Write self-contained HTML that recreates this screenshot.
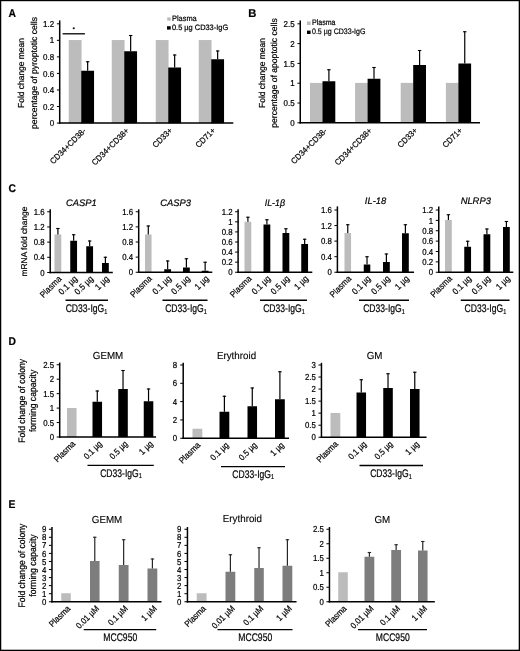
<!DOCTYPE html>
<html><head><meta charset="utf-8"><title>Figure</title>
<style>
html,body{margin:0;padding:0;background:#fff;}
body{width:520px;height:651px;overflow:hidden;font-family:"Liberation Sans",sans-serif;}
svg{display:block;will-change:transform;font-family:"Liberation Sans",sans-serif;}
text{text-rendering:geometricPrecision;stroke:#000;stroke-width:0.22px;fill:#000;}
text.t{stroke-width:0.12px;}text.t2{stroke-width:0.2px;}
</style></head><body>
<svg width="520" height="651" viewBox="0 0 520 651" shape-rendering="auto">
<rect x="0" y="0" width="520" height="651" fill="#fff"/>
<rect x="0" y="0" width="1.25" height="651" fill="#000"/><rect x="518.7" y="0" width="1.3" height="651" fill="#000"/><rect x="0" y="0" width="520" height="1.2" fill="#000"/><rect x="0" y="649.7" width="520" height="1.3" fill="#000"/>
<defs><filter id="soft" filterUnits="userSpaceOnUse" x="0" y="0" width="520" height="651"><feGaussianBlur stdDeviation="0.35"/></filter></defs>
<g filter="url(#soft)">
<text transform="translate(8.60 17.40) scale(0.92 1)" font-size="11.2" font-weight="bold" >A</text>
<text transform="translate(248.30 17.40)" font-size="11.2" font-weight="bold" >B</text>
<text transform="translate(8.60 191.50) scale(0.92 1)" font-size="11.2" font-weight="bold" >C</text>
<text transform="translate(8.40 344.50) scale(0.92 1)" font-size="11.2" font-weight="bold" >D</text>
<text transform="translate(8.40 508.20) scale(0.92 1)" font-size="11.2" font-weight="bold" >E</text>
<rect x="68.75" y="40.04" width="12.80" height="83.21" fill="#bcbcbc"/>
<rect x="81.25" y="70.75" width="12.80" height="52.50" fill="#000"/>
<line x1="87.65" y1="70.75" x2="87.65" y2="61.25" stroke="#000" stroke-width="1.2"/>
<line x1="85.95" y1="61.75" x2="89.35" y2="61.75" stroke="#000" stroke-width="1.1"/>
<rect x="111.75" y="40.04" width="12.80" height="83.21" fill="#bcbcbc"/>
<rect x="124.25" y="51.25" width="12.80" height="72.00" fill="#000"/>
<line x1="130.65" y1="51.25" x2="130.65" y2="35.00" stroke="#000" stroke-width="1.2"/>
<line x1="128.95" y1="35.50" x2="132.35" y2="35.50" stroke="#000" stroke-width="1.1"/>
<rect x="155.75" y="40.04" width="12.80" height="83.21" fill="#bcbcbc"/>
<rect x="168.25" y="67.50" width="12.80" height="55.75" fill="#000"/>
<line x1="174.65" y1="67.50" x2="174.65" y2="54.50" stroke="#000" stroke-width="1.2"/>
<line x1="172.95" y1="55.00" x2="176.35" y2="55.00" stroke="#000" stroke-width="1.1"/>
<rect x="198.75" y="40.04" width="12.80" height="83.21" fill="#bcbcbc"/>
<rect x="211.25" y="59.25" width="12.80" height="64.00" fill="#000"/>
<line x1="217.65" y1="59.25" x2="217.65" y2="50.50" stroke="#000" stroke-width="1.2"/>
<line x1="215.95" y1="51.00" x2="219.35" y2="51.00" stroke="#000" stroke-width="1.1"/>
<line x1="59.70" y1="20.40" x2="59.70" y2="123.80" stroke="#000" stroke-width="1.5"/>
<line x1="58.95" y1="123.05" x2="233.30" y2="123.05" stroke="#000" stroke-width="1.5"/>
<line x1="56.90" y1="123.05" x2="59.70" y2="123.05" stroke="#000" stroke-width="1"/>
<text transform="translate(54.10 126.15) scale(0.93 1)" font-size="8.6" text-anchor="end" >0</text>
<line x1="56.90" y1="106.51" x2="59.70" y2="106.51" stroke="#000" stroke-width="1"/>
<text transform="translate(54.10 109.60) scale(0.93 1)" font-size="8.6" text-anchor="end" >0.2</text>
<line x1="56.90" y1="89.97" x2="59.70" y2="89.97" stroke="#000" stroke-width="1"/>
<text transform="translate(54.10 93.06) scale(0.93 1)" font-size="8.6" text-anchor="end" >0.4</text>
<line x1="56.90" y1="73.42" x2="59.70" y2="73.42" stroke="#000" stroke-width="1"/>
<text transform="translate(54.10 76.52) scale(0.93 1)" font-size="8.6" text-anchor="end" >0.6</text>
<line x1="56.90" y1="56.88" x2="59.70" y2="56.88" stroke="#000" stroke-width="1"/>
<text transform="translate(54.10 59.98) scale(0.93 1)" font-size="8.6" text-anchor="end" >0.8</text>
<line x1="56.90" y1="40.34" x2="59.70" y2="40.34" stroke="#000" stroke-width="1"/>
<text transform="translate(54.10 43.44) scale(0.93 1)" font-size="8.6" text-anchor="end" >1</text>
<line x1="56.90" y1="23.80" x2="59.70" y2="23.80" stroke="#000" stroke-width="1"/>
<text transform="translate(54.10 26.90) scale(0.93 1)" font-size="8.6" text-anchor="end" >1.2</text>
<line x1="62.60" y1="33.80" x2="84.90" y2="33.80" stroke="#000" stroke-width="1.3"/>
<circle cx="73.75" cy="28.2" r="1.05" fill="#111"/>
<rect x="167.20" y="17.40" width="3.50" height="3.30" fill="#bcbcbc"/>
<text transform="translate(172.00 21.30) scale(0.95 1)" font-size="7.8" >Plasma</text>
<rect x="167.00" y="26.20" width="3.70" height="3.40" fill="#000"/>
<text transform="translate(172.00 30.20) scale(0.95 1)" font-size="7.8" >0.5 µg CD33-IgG</text>
<text transform="translate(23.80 73.00) rotate(-90) scale(0.97 1)" font-size="8.7" text-anchor="middle" >Fold change mean</text>
<text transform="translate(36.60 73.00) rotate(-90) scale(0.99 1)" font-size="8.7" text-anchor="middle" >percentage of pyroptotic cells</text>
<text transform="translate(86.50 131.30) rotate(-45) scale(0.95 1)" font-size="8.2" text-anchor="end" >CD34+CD38-</text>
<text transform="translate(129.50 131.30) rotate(-45) scale(0.95 1)" font-size="8.2" text-anchor="end" >CD34+CD38+</text>
<text transform="translate(173.00 131.00) rotate(-45) scale(0.95 1)" font-size="8.2" text-anchor="end" >CD33+</text>
<text transform="translate(216.00 131.00) rotate(-45) scale(0.95 1)" font-size="8.2" text-anchor="end" >CD71+</text>
<rect x="310.00" y="82.90" width="12.80" height="40.10" fill="#bcbcbc"/>
<rect x="322.50" y="81.25" width="12.80" height="41.75" fill="#000"/>
<line x1="328.90" y1="81.25" x2="328.90" y2="69.25" stroke="#000" stroke-width="1.2"/>
<line x1="327.20" y1="69.75" x2="330.60" y2="69.75" stroke="#000" stroke-width="1.1"/>
<rect x="355.10" y="82.90" width="12.80" height="40.10" fill="#bcbcbc"/>
<rect x="367.60" y="78.75" width="12.80" height="44.25" fill="#000"/>
<line x1="374.00" y1="78.75" x2="374.00" y2="67.00" stroke="#000" stroke-width="1.2"/>
<line x1="372.30" y1="67.50" x2="375.70" y2="67.50" stroke="#000" stroke-width="1.1"/>
<rect x="400.70" y="82.90" width="12.80" height="40.10" fill="#bcbcbc"/>
<rect x="413.20" y="65.00" width="12.80" height="58.00" fill="#000"/>
<line x1="419.60" y1="65.00" x2="419.60" y2="50.00" stroke="#000" stroke-width="1.2"/>
<line x1="417.90" y1="50.50" x2="421.30" y2="50.50" stroke="#000" stroke-width="1.1"/>
<rect x="445.90" y="82.90" width="12.80" height="40.10" fill="#bcbcbc"/>
<rect x="458.40" y="63.50" width="12.70" height="59.50" fill="#000"/>
<line x1="464.75" y1="63.50" x2="464.75" y2="31.25" stroke="#000" stroke-width="1.2"/>
<line x1="463.05" y1="31.75" x2="466.45" y2="31.75" stroke="#000" stroke-width="1.1"/>
<line x1="300.25" y1="20.40" x2="300.25" y2="123.55" stroke="#000" stroke-width="1.5"/>
<line x1="299.50" y1="122.80" x2="480.00" y2="122.80" stroke="#000" stroke-width="1.5"/>
<line x1="297.45" y1="122.80" x2="300.25" y2="122.80" stroke="#000" stroke-width="1"/>
<text transform="translate(294.65 125.90) scale(0.93 1)" font-size="8.6" text-anchor="end" >0</text>
<line x1="297.45" y1="103.00" x2="300.25" y2="103.00" stroke="#000" stroke-width="1"/>
<text transform="translate(294.65 106.10) scale(0.93 1)" font-size="8.6" text-anchor="end" >0.5</text>
<line x1="297.45" y1="83.20" x2="300.25" y2="83.20" stroke="#000" stroke-width="1"/>
<text transform="translate(294.65 86.30) scale(0.93 1)" font-size="8.6" text-anchor="end" >1</text>
<line x1="297.45" y1="63.40" x2="300.25" y2="63.40" stroke="#000" stroke-width="1"/>
<text transform="translate(294.65 66.50) scale(0.93 1)" font-size="8.6" text-anchor="end" >1.5</text>
<line x1="297.45" y1="43.60" x2="300.25" y2="43.60" stroke="#000" stroke-width="1"/>
<text transform="translate(294.65 46.70) scale(0.93 1)" font-size="8.6" text-anchor="end" >2</text>
<line x1="297.45" y1="23.80" x2="300.25" y2="23.80" stroke="#000" stroke-width="1"/>
<text transform="translate(294.65 26.90) scale(0.93 1)" font-size="8.6" text-anchor="end" >2.5</text>
<rect x="307.00" y="21.50" width="3.60" height="3.50" fill="#bcbcbc"/>
<text transform="translate(312.00 25.20) scale(0.88 1)" font-size="8.0" >Plasma</text>
<rect x="307.00" y="30.60" width="3.60" height="3.40" fill="#000"/>
<text transform="translate(312.00 34.20) scale(0.88 1)" font-size="8.0" >0.5 µg CD33-IgG</text>
<text transform="translate(264.70 73.00) rotate(-90) scale(0.97 1)" font-size="8.7" text-anchor="middle" >Fold change mean</text>
<text transform="translate(277.20 73.00) rotate(-90) scale(0.99 1)" font-size="8.7" text-anchor="middle" >percentage of apoptotic cells</text>
<text transform="translate(327.50 131.30) rotate(-45) scale(0.95 1)" font-size="8.2" text-anchor="end" >CD34+CD38-</text>
<text transform="translate(372.50 131.30) rotate(-45) scale(0.95 1)" font-size="8.2" text-anchor="end" >CD34+CD38+</text>
<text transform="translate(418.00 131.00) rotate(-45) scale(0.95 1)" font-size="8.2" text-anchor="end" >CD33+</text>
<text transform="translate(463.00 131.00) rotate(-45) scale(0.95 1)" font-size="8.2" text-anchor="end" >CD71+</text>
<rect x="54.50" y="234.50" width="6.80" height="38.00" fill="#bcbcbc"/>
<line x1="57.90" y1="234.50" x2="57.90" y2="228.00" stroke="#000" stroke-width="1.2"/>
<line x1="56.20" y1="228.50" x2="59.60" y2="228.50" stroke="#000" stroke-width="1.1"/>
<rect x="70.25" y="240.75" width="6.80" height="31.75" fill="#000"/>
<line x1="73.65" y1="240.75" x2="73.65" y2="234.25" stroke="#000" stroke-width="1.2"/>
<line x1="71.95" y1="234.75" x2="75.35" y2="234.75" stroke="#000" stroke-width="1.1"/>
<rect x="86.25" y="246.25" width="6.80" height="26.25" fill="#000"/>
<line x1="89.65" y1="246.25" x2="89.65" y2="240.50" stroke="#000" stroke-width="1.2"/>
<line x1="87.95" y1="241.00" x2="91.35" y2="241.00" stroke="#000" stroke-width="1.1"/>
<rect x="102.00" y="263.00" width="6.80" height="9.50" fill="#000"/>
<line x1="105.40" y1="263.00" x2="105.40" y2="256.75" stroke="#000" stroke-width="1.2"/>
<line x1="103.70" y1="257.25" x2="107.10" y2="257.25" stroke="#000" stroke-width="1.1"/>
<line x1="50.20" y1="209.35" x2="50.20" y2="273.25" stroke="#000" stroke-width="1.5"/>
<line x1="49.45" y1="272.50" x2="112.80" y2="272.50" stroke="#000" stroke-width="1.5"/>
<line x1="47.20" y1="272.50" x2="50.20" y2="272.50" stroke="#000" stroke-width="1"/>
<text transform="translate(44.60 275.63) scale(0.9 1)" font-size="8.7" text-anchor="end" >0</text>
<line x1="47.20" y1="257.31" x2="50.20" y2="257.31" stroke="#000" stroke-width="1"/>
<text transform="translate(44.60 260.44) scale(0.9 1)" font-size="8.7" text-anchor="end" >0.4</text>
<line x1="47.20" y1="242.12" x2="50.20" y2="242.12" stroke="#000" stroke-width="1"/>
<text transform="translate(44.60 245.26) scale(0.9 1)" font-size="8.7" text-anchor="end" >0.8</text>
<line x1="47.20" y1="226.94" x2="50.20" y2="226.94" stroke="#000" stroke-width="1"/>
<text transform="translate(44.60 230.07) scale(0.9 1)" font-size="8.7" text-anchor="end" >1.2</text>
<line x1="47.20" y1="211.75" x2="50.20" y2="211.75" stroke="#000" stroke-width="1"/>
<text transform="translate(44.60 214.88) scale(0.9 1)" font-size="8.7" text-anchor="end" >1.6</text>
<text transform="translate(81.25 205.95)" font-size="9.4" text-anchor="middle" font-style="italic" class="t2">CASP1</text>
<text transform="translate(62.05 279.50) rotate(-45) scale(0.9 1)" font-size="8.8" text-anchor="end" >Plasma</text>
<text transform="translate(77.80 279.50) rotate(-45) scale(0.9 1)" font-size="8.8" text-anchor="end" >0.1 µg</text>
<text transform="translate(93.80 279.50) rotate(-45) scale(0.9 1)" font-size="8.8" text-anchor="end" >0.5 µg</text>
<text transform="translate(109.55 279.50) rotate(-45) scale(0.9 1)" font-size="8.8" text-anchor="end" >1 µg</text>
<line x1="65.50" y1="300.25" x2="108.00" y2="300.25" stroke="#000" stroke-width="1.3"/>
<text transform="translate(86.50 311.90) scale(0.78 1)" font-size="11" text-anchor="middle" >CD33-IgG<tspan font-size="7" dy="1.8">1</tspan></text>
<rect x="145.00" y="234.50" width="6.55" height="37.75" fill="#bcbcbc"/>
<line x1="148.28" y1="234.50" x2="148.28" y2="225.50" stroke="#000" stroke-width="1.2"/>
<line x1="146.58" y1="226.00" x2="149.97" y2="226.00" stroke="#000" stroke-width="1.1"/>
<rect x="164.25" y="269.25" width="6.80" height="3.00" fill="#000"/>
<line x1="167.65" y1="269.25" x2="167.65" y2="260.50" stroke="#000" stroke-width="1.2"/>
<line x1="165.95" y1="261.00" x2="169.35" y2="261.00" stroke="#000" stroke-width="1.1"/>
<rect x="183.00" y="267.50" width="6.80" height="4.75" fill="#000"/>
<line x1="186.40" y1="267.50" x2="186.40" y2="258.25" stroke="#000" stroke-width="1.2"/>
<line x1="184.70" y1="258.75" x2="188.10" y2="258.75" stroke="#000" stroke-width="1.1"/>
<rect x="201.75" y="270.75" width="6.80" height="1.50" fill="#000"/>
<line x1="205.15" y1="270.75" x2="205.15" y2="261.75" stroke="#000" stroke-width="1.2"/>
<line x1="203.45" y1="262.25" x2="206.85" y2="262.25" stroke="#000" stroke-width="1.1"/>
<line x1="138.70" y1="209.35" x2="138.70" y2="273.00" stroke="#000" stroke-width="1.5"/>
<line x1="137.95" y1="272.25" x2="212.30" y2="272.25" stroke="#000" stroke-width="1.5"/>
<line x1="135.70" y1="272.25" x2="138.70" y2="272.25" stroke="#000" stroke-width="1"/>
<text transform="translate(133.10 275.38) scale(0.9 1)" font-size="8.7" text-anchor="end" >0</text>
<line x1="135.70" y1="257.12" x2="138.70" y2="257.12" stroke="#000" stroke-width="1"/>
<text transform="translate(133.10 260.26) scale(0.9 1)" font-size="8.7" text-anchor="end" >0.4</text>
<line x1="135.70" y1="242.00" x2="138.70" y2="242.00" stroke="#000" stroke-width="1"/>
<text transform="translate(133.10 245.13) scale(0.9 1)" font-size="8.7" text-anchor="end" >0.8</text>
<line x1="135.70" y1="226.88" x2="138.70" y2="226.88" stroke="#000" stroke-width="1"/>
<text transform="translate(133.10 230.01) scale(0.9 1)" font-size="8.7" text-anchor="end" >1.2</text>
<line x1="135.70" y1="211.75" x2="138.70" y2="211.75" stroke="#000" stroke-width="1"/>
<text transform="translate(133.10 214.88) scale(0.9 1)" font-size="8.7" text-anchor="end" >1.6</text>
<text transform="translate(175.50 205.95)" font-size="9.4" text-anchor="middle" font-style="italic" class="t2">CASP3</text>
<text transform="translate(152.30 279.25) rotate(-45) scale(0.9 1)" font-size="8.8" text-anchor="end" >Plasma</text>
<text transform="translate(171.80 279.25) rotate(-45) scale(0.9 1)" font-size="8.8" text-anchor="end" >0.1 µg</text>
<text transform="translate(190.55 279.25) rotate(-45) scale(0.9 1)" font-size="8.8" text-anchor="end" >0.5 µg</text>
<text transform="translate(209.30 279.25) rotate(-45) scale(0.9 1)" font-size="8.8" text-anchor="end" >1 µg</text>
<line x1="162.50" y1="300.25" x2="207.50" y2="300.25" stroke="#000" stroke-width="1.3"/>
<text transform="translate(186.00 311.90) scale(0.78 1)" font-size="11" text-anchor="middle" >CD33-IgG<tspan font-size="7" dy="1.8">1</tspan></text>
<rect x="244.50" y="221.75" width="6.80" height="50.50" fill="#bcbcbc"/>
<line x1="247.90" y1="221.75" x2="247.90" y2="216.75" stroke="#000" stroke-width="1.2"/>
<line x1="246.20" y1="217.25" x2="249.60" y2="217.25" stroke="#000" stroke-width="1.1"/>
<rect x="263.50" y="224.50" width="6.80" height="47.75" fill="#000"/>
<line x1="266.90" y1="224.50" x2="266.90" y2="219.25" stroke="#000" stroke-width="1.2"/>
<line x1="265.20" y1="219.75" x2="268.60" y2="219.75" stroke="#000" stroke-width="1.1"/>
<rect x="282.50" y="233.00" width="6.80" height="39.25" fill="#000"/>
<line x1="285.90" y1="233.00" x2="285.90" y2="228.25" stroke="#000" stroke-width="1.2"/>
<line x1="284.20" y1="228.75" x2="287.60" y2="228.75" stroke="#000" stroke-width="1.1"/>
<rect x="301.25" y="244.00" width="6.80" height="28.25" fill="#000"/>
<line x1="304.65" y1="244.00" x2="304.65" y2="238.75" stroke="#000" stroke-width="1.2"/>
<line x1="302.95" y1="239.25" x2="306.35" y2="239.25" stroke="#000" stroke-width="1.1"/>
<line x1="238.10" y1="209.35" x2="238.10" y2="273.00" stroke="#000" stroke-width="1.5"/>
<line x1="237.35" y1="272.25" x2="312.30" y2="272.25" stroke="#000" stroke-width="1.5"/>
<line x1="235.10" y1="272.25" x2="238.10" y2="272.25" stroke="#000" stroke-width="1"/>
<text transform="translate(232.50 275.38) scale(0.9 1)" font-size="8.7" text-anchor="end" >0</text>
<line x1="235.10" y1="262.17" x2="238.10" y2="262.17" stroke="#000" stroke-width="1"/>
<text transform="translate(232.50 265.30) scale(0.9 1)" font-size="8.7" text-anchor="end" >0.2</text>
<line x1="235.10" y1="252.08" x2="238.10" y2="252.08" stroke="#000" stroke-width="1"/>
<text transform="translate(232.50 255.22) scale(0.9 1)" font-size="8.7" text-anchor="end" >0.4</text>
<line x1="235.10" y1="242.00" x2="238.10" y2="242.00" stroke="#000" stroke-width="1"/>
<text transform="translate(232.50 245.13) scale(0.9 1)" font-size="8.7" text-anchor="end" >0.6</text>
<line x1="235.10" y1="231.92" x2="238.10" y2="231.92" stroke="#000" stroke-width="1"/>
<text transform="translate(232.50 235.05) scale(0.9 1)" font-size="8.7" text-anchor="end" >0.8</text>
<line x1="235.10" y1="221.83" x2="238.10" y2="221.83" stroke="#000" stroke-width="1"/>
<text transform="translate(232.50 224.97) scale(0.9 1)" font-size="8.7" text-anchor="end" >1</text>
<line x1="235.10" y1="211.75" x2="238.10" y2="211.75" stroke="#000" stroke-width="1"/>
<text transform="translate(232.50 214.88) scale(0.9 1)" font-size="8.7" text-anchor="end" >1.2</text>
<text transform="translate(274.80 205.95) scale(0.94 1)" font-size="9.4" text-anchor="middle" font-style="italic" class="t2">IL-1β</text>
<text transform="translate(252.05 279.25) rotate(-45) scale(0.9 1)" font-size="8.8" text-anchor="end" >Plasma</text>
<text transform="translate(271.05 279.25) rotate(-45) scale(0.9 1)" font-size="8.8" text-anchor="end" >0.1 µg</text>
<text transform="translate(290.05 279.25) rotate(-45) scale(0.9 1)" font-size="8.8" text-anchor="end" >0.5 µg</text>
<text transform="translate(308.80 279.25) rotate(-45) scale(0.9 1)" font-size="8.8" text-anchor="end" >1 µg</text>
<line x1="260.00" y1="300.25" x2="307.00" y2="300.25" stroke="#000" stroke-width="1.3"/>
<text transform="translate(284.00 311.90) scale(0.78 1)" font-size="11" text-anchor="middle" >CD33-IgG<tspan font-size="7" dy="1.8">1</tspan></text>
<rect x="344.50" y="233.00" width="6.55" height="39.25" fill="#bcbcbc"/>
<line x1="347.77" y1="233.00" x2="347.77" y2="224.25" stroke="#000" stroke-width="1.2"/>
<line x1="346.07" y1="224.75" x2="349.47" y2="224.75" stroke="#000" stroke-width="1.1"/>
<rect x="363.75" y="264.50" width="6.55" height="7.75" fill="#000"/>
<line x1="367.02" y1="264.50" x2="367.02" y2="256.25" stroke="#000" stroke-width="1.2"/>
<line x1="365.32" y1="256.75" x2="368.72" y2="256.75" stroke="#000" stroke-width="1.1"/>
<rect x="383.00" y="262.00" width="6.80" height="10.25" fill="#000"/>
<line x1="386.40" y1="262.00" x2="386.40" y2="253.50" stroke="#000" stroke-width="1.2"/>
<line x1="384.70" y1="254.00" x2="388.10" y2="254.00" stroke="#000" stroke-width="1.1"/>
<rect x="402.00" y="233.25" width="6.80" height="39.00" fill="#000"/>
<line x1="405.40" y1="233.25" x2="405.40" y2="224.25" stroke="#000" stroke-width="1.2"/>
<line x1="403.70" y1="224.75" x2="407.10" y2="224.75" stroke="#000" stroke-width="1.1"/>
<line x1="337.40" y1="206.40" x2="337.40" y2="273.00" stroke="#000" stroke-width="1.5"/>
<line x1="336.65" y1="272.25" x2="414.05" y2="272.25" stroke="#000" stroke-width="1.5"/>
<line x1="334.40" y1="272.25" x2="337.40" y2="272.25" stroke="#000" stroke-width="1"/>
<text transform="translate(331.80 275.38) scale(0.9 1)" font-size="8.7" text-anchor="end" >0</text>
<line x1="334.40" y1="256.69" x2="337.40" y2="256.69" stroke="#000" stroke-width="1"/>
<text transform="translate(331.80 259.82) scale(0.9 1)" font-size="8.7" text-anchor="end" >0.4</text>
<line x1="334.40" y1="241.12" x2="337.40" y2="241.12" stroke="#000" stroke-width="1"/>
<text transform="translate(331.80 244.26) scale(0.9 1)" font-size="8.7" text-anchor="end" >0.8</text>
<line x1="334.40" y1="225.56" x2="337.40" y2="225.56" stroke="#000" stroke-width="1"/>
<text transform="translate(331.80 228.69) scale(0.9 1)" font-size="8.7" text-anchor="end" >1.2</text>
<line x1="334.40" y1="210.00" x2="337.40" y2="210.00" stroke="#000" stroke-width="1"/>
<text transform="translate(331.80 213.13) scale(0.9 1)" font-size="8.7" text-anchor="end" >1.6</text>
<text transform="translate(375.50 203.95)" font-size="9.4" text-anchor="middle" font-style="italic" class="t2">IL-18</text>
<text transform="translate(351.90 279.25) rotate(-45) scale(0.9 1)" font-size="8.8" text-anchor="end" >Plasma</text>
<text transform="translate(371.20 279.25) rotate(-45) scale(0.9 1)" font-size="8.8" text-anchor="end" >0.1 µg</text>
<text transform="translate(390.55 279.25) rotate(-45) scale(0.9 1)" font-size="8.8" text-anchor="end" >0.5 µg</text>
<text transform="translate(409.55 279.25) rotate(-45) scale(0.9 1)" font-size="8.8" text-anchor="end" >1 µg</text>
<line x1="359.00" y1="300.25" x2="409.00" y2="300.25" stroke="#000" stroke-width="1.3"/>
<text transform="translate(384.00 311.90) scale(0.78 1)" font-size="11" text-anchor="middle" >CD33-IgG<tspan font-size="7" dy="1.8">1</tspan></text>
<rect x="445.00" y="220.00" width="6.80" height="52.25" fill="#bcbcbc"/>
<line x1="448.40" y1="220.00" x2="448.40" y2="214.25" stroke="#000" stroke-width="1.2"/>
<line x1="446.70" y1="214.75" x2="450.10" y2="214.75" stroke="#000" stroke-width="1.1"/>
<rect x="464.25" y="246.75" width="6.80" height="25.50" fill="#000"/>
<line x1="467.65" y1="246.75" x2="467.65" y2="240.75" stroke="#000" stroke-width="1.2"/>
<line x1="465.95" y1="241.25" x2="469.35" y2="241.25" stroke="#000" stroke-width="1.1"/>
<rect x="483.50" y="234.25" width="6.80" height="38.00" fill="#000"/>
<line x1="486.90" y1="234.25" x2="486.90" y2="228.50" stroke="#000" stroke-width="1.2"/>
<line x1="485.20" y1="229.00" x2="488.60" y2="229.00" stroke="#000" stroke-width="1.1"/>
<rect x="503.00" y="227.00" width="6.80" height="45.25" fill="#000"/>
<line x1="506.40" y1="227.00" x2="506.40" y2="221.00" stroke="#000" stroke-width="1.2"/>
<line x1="504.70" y1="221.50" x2="508.10" y2="221.50" stroke="#000" stroke-width="1.1"/>
<line x1="438.75" y1="206.60" x2="438.75" y2="273.00" stroke="#000" stroke-width="1.5"/>
<line x1="438.00" y1="272.25" x2="513.30" y2="272.25" stroke="#000" stroke-width="1.5"/>
<line x1="435.75" y1="272.25" x2="438.75" y2="272.25" stroke="#000" stroke-width="1"/>
<text transform="translate(433.15 275.38) scale(0.9 1)" font-size="8.7" text-anchor="end" >0</text>
<line x1="435.75" y1="261.88" x2="438.75" y2="261.88" stroke="#000" stroke-width="1"/>
<text transform="translate(433.15 265.01) scale(0.9 1)" font-size="8.7" text-anchor="end" >0.2</text>
<line x1="435.75" y1="251.50" x2="438.75" y2="251.50" stroke="#000" stroke-width="1"/>
<text transform="translate(433.15 254.63) scale(0.9 1)" font-size="8.7" text-anchor="end" >0.4</text>
<line x1="435.75" y1="241.12" x2="438.75" y2="241.12" stroke="#000" stroke-width="1"/>
<text transform="translate(433.15 244.26) scale(0.9 1)" font-size="8.7" text-anchor="end" >0.6</text>
<line x1="435.75" y1="230.75" x2="438.75" y2="230.75" stroke="#000" stroke-width="1"/>
<text transform="translate(433.15 233.88) scale(0.9 1)" font-size="8.7" text-anchor="end" >0.8</text>
<line x1="435.75" y1="220.38" x2="438.75" y2="220.38" stroke="#000" stroke-width="1"/>
<text transform="translate(433.15 223.51) scale(0.9 1)" font-size="8.7" text-anchor="end" >1</text>
<line x1="435.75" y1="210.00" x2="438.75" y2="210.00" stroke="#000" stroke-width="1"/>
<text transform="translate(433.15 213.13) scale(0.9 1)" font-size="8.7" text-anchor="end" >1.2</text>
<text transform="translate(475.75 203.95)" font-size="9.4" text-anchor="middle" font-style="italic" class="t2">NLRP3</text>
<text transform="translate(452.55 279.25) rotate(-45) scale(0.9 1)" font-size="8.8" text-anchor="end" >Plasma</text>
<text transform="translate(471.80 279.25) rotate(-45) scale(0.9 1)" font-size="8.8" text-anchor="end" >0.1 µg</text>
<text transform="translate(491.05 279.25) rotate(-45) scale(0.9 1)" font-size="8.8" text-anchor="end" >0.5 µg</text>
<text transform="translate(510.55 279.25) rotate(-45) scale(0.9 1)" font-size="8.8" text-anchor="end" >1 µg</text>
<line x1="460.75" y1="300.25" x2="509.50" y2="300.25" stroke="#000" stroke-width="1.3"/>
<text transform="translate(485.40 311.90) scale(0.78 1)" font-size="11" text-anchor="middle" >CD33-IgG<tspan font-size="7" dy="1.8">1</tspan></text>
<text transform="translate(27.30 241.50) rotate(-90)" font-size="8.4" text-anchor="middle" >mRNA fold change</text>
<rect x="67.00" y="408.00" width="9.55" height="29.00" fill="#bcbcbc"/>
<rect x="92.50" y="401.75" width="9.55" height="35.25" fill="#000"/>
<line x1="97.28" y1="401.75" x2="97.28" y2="390.50" stroke="#000" stroke-width="1.2"/>
<line x1="95.58" y1="391.00" x2="98.98" y2="391.00" stroke="#000" stroke-width="1.1"/>
<rect x="118.25" y="389.00" width="9.55" height="48.00" fill="#000"/>
<line x1="123.03" y1="389.00" x2="123.03" y2="370.00" stroke="#000" stroke-width="1.2"/>
<line x1="121.33" y1="370.50" x2="124.73" y2="370.50" stroke="#000" stroke-width="1.1"/>
<rect x="143.75" y="401.25" width="9.55" height="35.75" fill="#000"/>
<line x1="148.53" y1="401.25" x2="148.53" y2="388.50" stroke="#000" stroke-width="1.2"/>
<line x1="146.83" y1="389.00" x2="150.22" y2="389.00" stroke="#000" stroke-width="1.1"/>
<line x1="59.70" y1="362.55" x2="59.70" y2="437.75" stroke="#000" stroke-width="1.5"/>
<line x1="58.95" y1="437.00" x2="156.05" y2="437.00" stroke="#000" stroke-width="1.5"/>
<line x1="56.70" y1="437.00" x2="59.70" y2="437.00" stroke="#000" stroke-width="1"/>
<text transform="translate(54.10 440.13) scale(0.9 1)" font-size="8.7" text-anchor="end" >0</text>
<line x1="56.70" y1="422.55" x2="59.70" y2="422.55" stroke="#000" stroke-width="1"/>
<text transform="translate(54.10 425.68) scale(0.9 1)" font-size="8.7" text-anchor="end" >0.5</text>
<line x1="56.70" y1="408.10" x2="59.70" y2="408.10" stroke="#000" stroke-width="1"/>
<text transform="translate(54.10 411.23) scale(0.9 1)" font-size="8.7" text-anchor="end" >1</text>
<line x1="56.70" y1="393.65" x2="59.70" y2="393.65" stroke="#000" stroke-width="1"/>
<text transform="translate(54.10 396.78) scale(0.9 1)" font-size="8.7" text-anchor="end" >1.5</text>
<line x1="56.70" y1="379.20" x2="59.70" y2="379.20" stroke="#000" stroke-width="1"/>
<text transform="translate(54.10 382.33) scale(0.9 1)" font-size="8.7" text-anchor="end" >2</text>
<line x1="56.70" y1="364.75" x2="59.70" y2="364.75" stroke="#000" stroke-width="1"/>
<text transform="translate(54.10 367.88) scale(0.9 1)" font-size="8.7" text-anchor="end" >2.5</text>
<text transform="translate(108.00 359.25) scale(0.96 1)" font-size="10.2" text-anchor="middle" class="t">GEMM</text>
<text transform="translate(75.92 444.30) rotate(-45) scale(0.9 1)" font-size="8.7" text-anchor="end" >Plasma</text>
<text transform="translate(102.62 444.30) rotate(-45) scale(0.9 1)" font-size="8.7" text-anchor="end" >0.1 µg</text>
<text transform="translate(128.38 444.30) rotate(-45) scale(0.9 1)" font-size="8.7" text-anchor="end" >0.5 µg</text>
<text transform="translate(153.48 444.30) rotate(-45) scale(0.9 1)" font-size="8.7" text-anchor="end" >1 µg</text>
<line x1="87.50" y1="465.30" x2="153.75" y2="465.30" stroke="#000" stroke-width="1.3"/>
<text transform="translate(121.00 476.55) scale(0.78 1)" font-size="11" text-anchor="middle" >CD33-IgG<tspan font-size="7" dy="1.8">1</tspan></text>
<rect x="192.50" y="428.75" width="9.80" height="9.50" fill="#bcbcbc"/>
<rect x="219.50" y="411.75" width="9.80" height="26.50" fill="#000"/>
<line x1="224.40" y1="411.75" x2="224.40" y2="395.75" stroke="#000" stroke-width="1.2"/>
<line x1="222.70" y1="396.25" x2="226.10" y2="396.25" stroke="#000" stroke-width="1.1"/>
<rect x="247.50" y="406.25" width="9.55" height="32.00" fill="#000"/>
<line x1="252.28" y1="406.25" x2="252.28" y2="387.50" stroke="#000" stroke-width="1.2"/>
<line x1="250.58" y1="388.00" x2="253.97" y2="388.00" stroke="#000" stroke-width="1.1"/>
<rect x="275.00" y="399.25" width="9.80" height="39.00" fill="#000"/>
<line x1="279.90" y1="399.25" x2="279.90" y2="371.25" stroke="#000" stroke-width="1.2"/>
<line x1="278.20" y1="371.75" x2="281.60" y2="371.75" stroke="#000" stroke-width="1.1"/>
<line x1="183.20" y1="362.80" x2="183.20" y2="439.00" stroke="#000" stroke-width="1.5"/>
<line x1="182.45" y1="438.25" x2="289.05" y2="438.25" stroke="#000" stroke-width="1.5"/>
<line x1="180.20" y1="438.25" x2="183.20" y2="438.25" stroke="#000" stroke-width="1"/>
<text transform="translate(177.00 441.38) scale(0.9 1)" font-size="8.7" text-anchor="end" >0</text>
<line x1="180.20" y1="419.94" x2="183.20" y2="419.94" stroke="#000" stroke-width="1"/>
<text transform="translate(177.00 423.07) scale(0.9 1)" font-size="8.7" text-anchor="end" >2</text>
<line x1="180.20" y1="401.62" x2="183.20" y2="401.62" stroke="#000" stroke-width="1"/>
<text transform="translate(177.00 404.76) scale(0.9 1)" font-size="8.7" text-anchor="end" >4</text>
<line x1="180.20" y1="383.31" x2="183.20" y2="383.31" stroke="#000" stroke-width="1"/>
<text transform="translate(177.00 386.44) scale(0.9 1)" font-size="8.7" text-anchor="end" >6</text>
<line x1="180.20" y1="365.00" x2="183.20" y2="365.00" stroke="#000" stroke-width="1"/>
<text transform="translate(177.00 368.13) scale(0.9 1)" font-size="8.7" text-anchor="end" >8</text>
<text transform="translate(236.50 358.75) scale(0.96 1)" font-size="10.2" text-anchor="middle" class="t">Erythroid</text>
<text transform="translate(200.85 445.55) rotate(-45) scale(0.9 1)" font-size="8.7" text-anchor="end" >Plasma</text>
<text transform="translate(229.35 445.55) rotate(-45) scale(0.9 1)" font-size="8.7" text-anchor="end" >0.1 µg</text>
<text transform="translate(257.62 445.55) rotate(-45) scale(0.9 1)" font-size="8.7" text-anchor="end" >0.5 µg</text>
<text transform="translate(284.65 445.55) rotate(-45) scale(0.9 1)" font-size="8.7" text-anchor="end" >1 µg</text>
<line x1="221.00" y1="466.70" x2="285.00" y2="466.70" stroke="#000" stroke-width="1.3"/>
<text transform="translate(253.20 477.60) scale(0.78 1)" font-size="11" text-anchor="middle" >CD33-IgG<tspan font-size="7" dy="1.8">1</tspan></text>
<rect x="330.50" y="413.00" width="9.80" height="24.25" fill="#bcbcbc"/>
<rect x="356.50" y="392.50" width="9.55" height="44.75" fill="#000"/>
<line x1="361.27" y1="392.50" x2="361.27" y2="379.25" stroke="#000" stroke-width="1.2"/>
<line x1="359.57" y1="379.75" x2="362.97" y2="379.75" stroke="#000" stroke-width="1.1"/>
<rect x="383.25" y="388.00" width="9.55" height="49.25" fill="#000"/>
<line x1="388.02" y1="388.00" x2="388.02" y2="373.25" stroke="#000" stroke-width="1.2"/>
<line x1="386.32" y1="373.75" x2="389.72" y2="373.75" stroke="#000" stroke-width="1.1"/>
<rect x="410.00" y="389.00" width="9.55" height="48.25" fill="#000"/>
<line x1="414.77" y1="389.00" x2="414.77" y2="371.75" stroke="#000" stroke-width="1.2"/>
<line x1="413.07" y1="372.25" x2="416.47" y2="372.25" stroke="#000" stroke-width="1.1"/>
<line x1="321.45" y1="362.80" x2="321.45" y2="438.00" stroke="#000" stroke-width="1.5"/>
<line x1="320.70" y1="437.25" x2="426.55" y2="437.25" stroke="#000" stroke-width="1.5"/>
<line x1="318.45" y1="437.25" x2="321.45" y2="437.25" stroke="#000" stroke-width="1"/>
<text transform="translate(315.85 440.38) scale(0.9 1)" font-size="8.7" text-anchor="end" >0</text>
<line x1="318.45" y1="425.21" x2="321.45" y2="425.21" stroke="#000" stroke-width="1"/>
<text transform="translate(315.85 428.34) scale(0.9 1)" font-size="8.7" text-anchor="end" >0.5</text>
<line x1="318.45" y1="413.17" x2="321.45" y2="413.17" stroke="#000" stroke-width="1"/>
<text transform="translate(315.85 416.30) scale(0.9 1)" font-size="8.7" text-anchor="end" >1</text>
<line x1="318.45" y1="401.12" x2="321.45" y2="401.12" stroke="#000" stroke-width="1"/>
<text transform="translate(315.85 404.26) scale(0.9 1)" font-size="8.7" text-anchor="end" >1.5</text>
<line x1="318.45" y1="389.08" x2="321.45" y2="389.08" stroke="#000" stroke-width="1"/>
<text transform="translate(315.85 392.22) scale(0.9 1)" font-size="8.7" text-anchor="end" >2</text>
<line x1="318.45" y1="377.04" x2="321.45" y2="377.04" stroke="#000" stroke-width="1"/>
<text transform="translate(315.85 380.17) scale(0.9 1)" font-size="8.7" text-anchor="end" >2.5</text>
<line x1="318.45" y1="365.00" x2="321.45" y2="365.00" stroke="#000" stroke-width="1"/>
<text transform="translate(315.85 368.13) scale(0.9 1)" font-size="8.7" text-anchor="end" >3</text>
<text transform="translate(374.50 359.25) scale(0.96 1)" font-size="10.2" text-anchor="middle" class="t">GM</text>
<text transform="translate(338.55 444.55) rotate(-45) scale(0.9 1)" font-size="8.7" text-anchor="end" >Plasma</text>
<text transform="translate(367.12 444.55) rotate(-45) scale(0.9 1)" font-size="8.7" text-anchor="end" >0.1 µg</text>
<text transform="translate(393.38 444.55) rotate(-45) scale(0.9 1)" font-size="8.7" text-anchor="end" >0.5 µg</text>
<text transform="translate(419.73 444.55) rotate(-45) scale(0.9 1)" font-size="8.7" text-anchor="end" >1 µg</text>
<line x1="359.50" y1="465.50" x2="423.00" y2="465.50" stroke="#000" stroke-width="1.3"/>
<text transform="translate(391.00 477.10) scale(0.78 1)" font-size="11" text-anchor="middle" >CD33-IgG<tspan font-size="7" dy="1.8">1</tspan></text>
<text transform="translate(24.60 400.90) rotate(-90) scale(0.9 1)" font-size="9.5" text-anchor="middle" >Fold change of colony</text>
<text transform="translate(36.00 400.90) rotate(-90) scale(0.9 1)" font-size="9.5" text-anchor="middle" >forming capacity</text>
<rect x="61.25" y="593.25" width="9.55" height="8.50" fill="#bcbcbc"/>
<rect x="90.00" y="561.00" width="9.55" height="40.75" fill="#7d7d7d"/>
<line x1="94.78" y1="561.00" x2="94.78" y2="536.75" stroke="#262626" stroke-width="1.2"/>
<line x1="93.08" y1="537.25" x2="96.48" y2="537.25" stroke="#262626" stroke-width="1.1"/>
<rect x="118.75" y="565.00" width="9.80" height="36.75" fill="#7d7d7d"/>
<line x1="123.65" y1="565.00" x2="123.65" y2="539.25" stroke="#262626" stroke-width="1.2"/>
<line x1="121.95" y1="539.75" x2="125.35" y2="539.75" stroke="#262626" stroke-width="1.1"/>
<rect x="147.50" y="568.50" width="9.80" height="33.25" fill="#7d7d7d"/>
<line x1="152.40" y1="568.50" x2="152.40" y2="558.50" stroke="#262626" stroke-width="1.2"/>
<line x1="150.70" y1="559.00" x2="154.10" y2="559.00" stroke="#262626" stroke-width="1.1"/>
<line x1="51.95" y1="527.05" x2="51.95" y2="602.50" stroke="#000" stroke-width="1.5"/>
<line x1="51.20" y1="601.75" x2="161.55" y2="601.75" stroke="#000" stroke-width="1.5"/>
<line x1="48.95" y1="601.75" x2="51.95" y2="601.75" stroke="#000" stroke-width="1"/>
<text transform="translate(46.35 604.88) scale(0.9 1)" font-size="8.7" text-anchor="end" >0</text>
<line x1="48.95" y1="593.69" x2="51.95" y2="593.69" stroke="#000" stroke-width="1"/>
<text transform="translate(46.35 596.83) scale(0.9 1)" font-size="8.7" text-anchor="end" >1</text>
<line x1="48.95" y1="585.64" x2="51.95" y2="585.64" stroke="#000" stroke-width="1"/>
<text transform="translate(46.35 588.77) scale(0.9 1)" font-size="8.7" text-anchor="end" >2</text>
<line x1="48.95" y1="577.58" x2="51.95" y2="577.58" stroke="#000" stroke-width="1"/>
<text transform="translate(46.35 580.72) scale(0.9 1)" font-size="8.7" text-anchor="end" >3</text>
<line x1="48.95" y1="569.53" x2="51.95" y2="569.53" stroke="#000" stroke-width="1"/>
<text transform="translate(46.35 572.66) scale(0.9 1)" font-size="8.7" text-anchor="end" >4</text>
<line x1="48.95" y1="561.47" x2="51.95" y2="561.47" stroke="#000" stroke-width="1"/>
<text transform="translate(46.35 564.60) scale(0.9 1)" font-size="8.7" text-anchor="end" >5</text>
<line x1="48.95" y1="553.42" x2="51.95" y2="553.42" stroke="#000" stroke-width="1"/>
<text transform="translate(46.35 556.55) scale(0.9 1)" font-size="8.7" text-anchor="end" >6</text>
<line x1="48.95" y1="545.36" x2="51.95" y2="545.36" stroke="#000" stroke-width="1"/>
<text transform="translate(46.35 548.49) scale(0.9 1)" font-size="8.7" text-anchor="end" >7</text>
<line x1="48.95" y1="537.31" x2="51.95" y2="537.31" stroke="#000" stroke-width="1"/>
<text transform="translate(46.35 540.44) scale(0.9 1)" font-size="8.7" text-anchor="end" >8</text>
<line x1="48.95" y1="529.25" x2="51.95" y2="529.25" stroke="#000" stroke-width="1"/>
<text transform="translate(46.35 532.38) scale(0.9 1)" font-size="8.7" text-anchor="end" >9</text>
<text transform="translate(107.00 522.75) scale(0.96 1)" font-size="10.2" text-anchor="middle" class="t">GEMM</text>
<text transform="translate(70.88 609.05) rotate(-45) scale(0.9 1)" font-size="8.7" text-anchor="end" >Plasma</text>
<text transform="translate(99.62 609.05) rotate(-45) scale(0.9 1)" font-size="8.7" text-anchor="end" >0.01 µM</text>
<text transform="translate(128.40 609.05) rotate(-45) scale(0.9 1)" font-size="8.7" text-anchor="end" >0.1 µM</text>
<text transform="translate(157.25 609.05) rotate(-45) scale(0.9 1)" font-size="8.7" text-anchor="end" >1 µM</text>
<line x1="83.75" y1="629.70" x2="156.25" y2="629.70" stroke="#000" stroke-width="1.3"/>
<text transform="translate(120.25 641.30) scale(0.78 1)" font-size="11" text-anchor="middle" >MCC950</text>
<rect x="196.75" y="593.25" width="9.80" height="8.50" fill="#bcbcbc"/>
<rect x="225.50" y="571.75" width="9.80" height="30.00" fill="#7d7d7d"/>
<line x1="230.40" y1="571.75" x2="230.40" y2="554.25" stroke="#262626" stroke-width="1.2"/>
<line x1="228.70" y1="554.75" x2="232.10" y2="554.75" stroke="#262626" stroke-width="1.1"/>
<rect x="254.25" y="568.00" width="9.55" height="33.75" fill="#7d7d7d"/>
<line x1="259.02" y1="568.00" x2="259.02" y2="547.25" stroke="#262626" stroke-width="1.2"/>
<line x1="257.32" y1="547.75" x2="260.72" y2="547.75" stroke="#262626" stroke-width="1.1"/>
<rect x="282.50" y="565.75" width="9.80" height="36.00" fill="#7d7d7d"/>
<line x1="287.40" y1="565.75" x2="287.40" y2="539.25" stroke="#262626" stroke-width="1.2"/>
<line x1="285.70" y1="539.75" x2="289.10" y2="539.75" stroke="#262626" stroke-width="1.1"/>
<line x1="187.45" y1="527.05" x2="187.45" y2="602.50" stroke="#000" stroke-width="1.5"/>
<line x1="186.70" y1="601.75" x2="296.55" y2="601.75" stroke="#000" stroke-width="1.5"/>
<line x1="184.45" y1="601.75" x2="187.45" y2="601.75" stroke="#000" stroke-width="1"/>
<text transform="translate(181.25 604.88) scale(0.9 1)" font-size="8.7" text-anchor="end" >0</text>
<line x1="184.45" y1="593.69" x2="187.45" y2="593.69" stroke="#000" stroke-width="1"/>
<text transform="translate(181.25 596.83) scale(0.9 1)" font-size="8.7" text-anchor="end" >1</text>
<line x1="184.45" y1="585.64" x2="187.45" y2="585.64" stroke="#000" stroke-width="1"/>
<text transform="translate(181.25 588.77) scale(0.9 1)" font-size="8.7" text-anchor="end" >2</text>
<line x1="184.45" y1="577.58" x2="187.45" y2="577.58" stroke="#000" stroke-width="1"/>
<text transform="translate(181.25 580.72) scale(0.9 1)" font-size="8.7" text-anchor="end" >3</text>
<line x1="184.45" y1="569.53" x2="187.45" y2="569.53" stroke="#000" stroke-width="1"/>
<text transform="translate(181.25 572.66) scale(0.9 1)" font-size="8.7" text-anchor="end" >4</text>
<line x1="184.45" y1="561.47" x2="187.45" y2="561.47" stroke="#000" stroke-width="1"/>
<text transform="translate(181.25 564.60) scale(0.9 1)" font-size="8.7" text-anchor="end" >5</text>
<line x1="184.45" y1="553.42" x2="187.45" y2="553.42" stroke="#000" stroke-width="1"/>
<text transform="translate(181.25 556.55) scale(0.9 1)" font-size="8.7" text-anchor="end" >6</text>
<line x1="184.45" y1="545.36" x2="187.45" y2="545.36" stroke="#000" stroke-width="1"/>
<text transform="translate(181.25 548.49) scale(0.9 1)" font-size="8.7" text-anchor="end" >7</text>
<line x1="184.45" y1="537.31" x2="187.45" y2="537.31" stroke="#000" stroke-width="1"/>
<text transform="translate(181.25 540.44) scale(0.9 1)" font-size="8.7" text-anchor="end" >8</text>
<line x1="184.45" y1="529.25" x2="187.45" y2="529.25" stroke="#000" stroke-width="1"/>
<text transform="translate(181.25 532.38) scale(0.9 1)" font-size="8.7" text-anchor="end" >9</text>
<text transform="translate(242.40 522.40) scale(0.96 1)" font-size="10.2" text-anchor="middle" class="t">Erythroid</text>
<text transform="translate(206.40 609.05) rotate(-45) scale(0.9 1)" font-size="8.7" text-anchor="end" >Plasma</text>
<text transform="translate(235.25 609.05) rotate(-45) scale(0.9 1)" font-size="8.7" text-anchor="end" >0.01 µM</text>
<text transform="translate(263.78 609.05) rotate(-45) scale(0.9 1)" font-size="8.7" text-anchor="end" >0.1 µM</text>
<text transform="translate(292.25 609.05) rotate(-45) scale(0.9 1)" font-size="8.7" text-anchor="end" >1 µM</text>
<line x1="217.50" y1="629.70" x2="292.50" y2="629.70" stroke="#000" stroke-width="1.3"/>
<text transform="translate(255.25 641.30) scale(0.78 1)" font-size="11" text-anchor="middle" >MCC950</text>
<rect x="338.25" y="572.25" width="9.55" height="29.50" fill="#bcbcbc"/>
<rect x="364.50" y="556.75" width="9.80" height="45.00" fill="#7d7d7d"/>
<line x1="369.40" y1="556.75" x2="369.40" y2="552.00" stroke="#262626" stroke-width="1.2"/>
<line x1="367.70" y1="552.50" x2="371.10" y2="552.50" stroke="#262626" stroke-width="1.1"/>
<rect x="391.25" y="550.00" width="9.80" height="51.75" fill="#7d7d7d"/>
<line x1="396.15" y1="550.00" x2="396.15" y2="544.25" stroke="#262626" stroke-width="1.2"/>
<line x1="394.45" y1="544.75" x2="397.85" y2="544.75" stroke="#262626" stroke-width="1.1"/>
<rect x="418.00" y="550.50" width="9.55" height="51.25" fill="#7d7d7d"/>
<line x1="422.77" y1="550.50" x2="422.77" y2="541.00" stroke="#262626" stroke-width="1.2"/>
<line x1="421.07" y1="541.50" x2="424.47" y2="541.50" stroke="#262626" stroke-width="1.1"/>
<line x1="329.45" y1="527.05" x2="329.45" y2="602.50" stroke="#000" stroke-width="1.5"/>
<line x1="328.70" y1="601.75" x2="434.80" y2="601.75" stroke="#000" stroke-width="1.5"/>
<line x1="326.45" y1="601.75" x2="329.45" y2="601.75" stroke="#000" stroke-width="1"/>
<text transform="translate(323.85 604.88) scale(0.9 1)" font-size="8.7" text-anchor="end" >0</text>
<line x1="326.45" y1="587.25" x2="329.45" y2="587.25" stroke="#000" stroke-width="1"/>
<text transform="translate(323.85 590.38) scale(0.9 1)" font-size="8.7" text-anchor="end" >0.5</text>
<line x1="326.45" y1="572.75" x2="329.45" y2="572.75" stroke="#000" stroke-width="1"/>
<text transform="translate(323.85 575.88) scale(0.9 1)" font-size="8.7" text-anchor="end" >1</text>
<line x1="326.45" y1="558.25" x2="329.45" y2="558.25" stroke="#000" stroke-width="1"/>
<text transform="translate(323.85 561.38) scale(0.9 1)" font-size="8.7" text-anchor="end" >1.5</text>
<line x1="326.45" y1="543.75" x2="329.45" y2="543.75" stroke="#000" stroke-width="1"/>
<text transform="translate(323.85 546.88) scale(0.9 1)" font-size="8.7" text-anchor="end" >2</text>
<line x1="326.45" y1="529.25" x2="329.45" y2="529.25" stroke="#000" stroke-width="1"/>
<text transform="translate(323.85 532.38) scale(0.9 1)" font-size="8.7" text-anchor="end" >2.5</text>
<text transform="translate(382.25 522.75) scale(0.96 1)" font-size="10.2" text-anchor="middle" class="t">GM</text>
<text transform="translate(347.18 609.05) rotate(-45) scale(0.9 1)" font-size="8.7" text-anchor="end" >Plasma</text>
<text transform="translate(374.05 609.05) rotate(-45) scale(0.9 1)" font-size="8.7" text-anchor="end" >0.01 µM</text>
<text transform="translate(400.60 609.05) rotate(-45) scale(0.9 1)" font-size="8.7" text-anchor="end" >0.1 µM</text>
<text transform="translate(427.62 609.05) rotate(-45) scale(0.9 1)" font-size="8.7" text-anchor="end" >1 µM</text>
<line x1="358.00" y1="629.70" x2="427.00" y2="629.70" stroke="#000" stroke-width="1.3"/>
<text transform="translate(392.75 641.30) scale(0.78 1)" font-size="11" text-anchor="middle" >MCC950</text>
<text transform="translate(24.60 565.60) rotate(-90) scale(0.9 1)" font-size="9.5" text-anchor="middle" >Fold change of colony</text>
<text transform="translate(36.00 565.60) rotate(-90) scale(0.9 1)" font-size="9.5" text-anchor="middle" >forming capacity</text>
</g>
</svg>
</body></html>
